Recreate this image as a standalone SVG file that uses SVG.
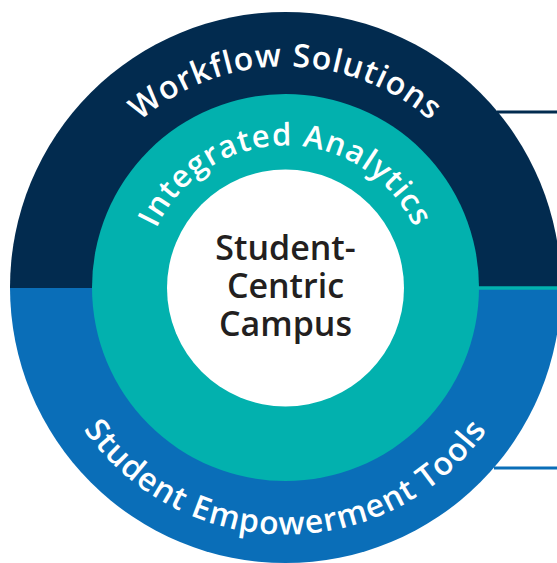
<svg xmlns="http://www.w3.org/2000/svg" width="557" height="563" viewBox="0 0 557 563">
  <defs>
    <style>
      .arc { font-family: "Open Sans", "Lato", "Liberation Sans", sans-serif; font-weight: 600; fill: #ffffff; }
      .center { font-family: "Open Sans", "Lato", "Liberation Sans", sans-serif; font-weight: 600; fill: #231f20; font-size: 34px; text-anchor: middle; }
    </style>
    <path id="p-top" d="M 64.5 287.5 A 221 221 0 0 1 506.5 287.5"/>
    <path id="p-mid" d="M 143.5 287.5 A 142 142 0 0 1 427.5 287.5"/>
    <path id="p-bot" d="M 38.5 287.5 A 247 247 0 0 0 532.5 287.5"/>
    <clipPath id="clip-top"><rect x="0" y="0" width="557" height="288"/></clipPath>
    <clipPath id="clip-bot"><rect x="0" y="288" width="557" height="275"/></clipPath>
  </defs>
  <rect width="557" height="563" fill="#ffffff"/>

  <g id="connectors">
    <line x1="497" y1="112" x2="557" y2="112" stroke="#022b4f" stroke-width="3"/>
    <line x1="494" y1="468" x2="557" y2="468" stroke="#0a6eb8" stroke-width="3"/>
  </g>

  <g id="workflow-solutions">
    <circle cx="285.5" cy="287.5" r="275.5" fill="#022b4f" clip-path="url(#clip-top)"/>
    <text class="arc" font-size="32" letter-spacing="1"><textPath href="#p-top" startOffset="50%" text-anchor="middle">Workflow Solutions</textPath></text>
  </g>

  <g id="student-empowerment-tools">
    <circle cx="285.5" cy="287.5" r="275.5" fill="#0a6eb8" clip-path="url(#clip-bot)"/>
    <text class="arc" font-size="32" letter-spacing="1"><textPath href="#p-bot" startOffset="50%" text-anchor="middle">Student Empowerment Tools</textPath></text>
  </g>

  <g id="connector-teal">
    <line x1="470" y1="288" x2="557" y2="288" stroke="#02b1ae" stroke-width="3.5"/>
  </g>

  <g id="integrated-analytics">
    <circle cx="285.5" cy="287.5" r="193.5" fill="#02b1ae"/>
    <text class="arc" font-size="31" letter-spacing="1.2"><textPath href="#p-mid" startOffset="50%" text-anchor="middle">Integrated Analytics</textPath></text>
  </g>

  <g id="student-centric-campus">
    <circle cx="285.5" cy="288" r="118.5" fill="#ffffff"/>
    <text class="center" x="285.5" y="260">Student-</text>
    <text class="center" x="285.5" y="298">Centric</text>
    <text class="center" x="285.5" y="336">Campus</text>
  </g>
</svg>
